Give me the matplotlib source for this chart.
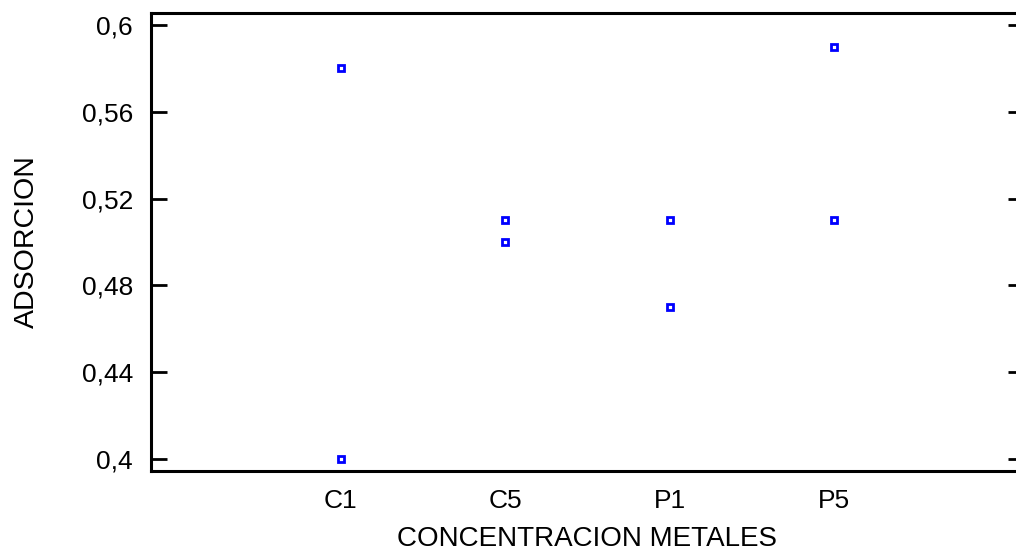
import numpy as np
import matplotlib.pyplot as plt

plt.rcParams['font.family'] = ['Liberation Sans', 'DejaVu Sans']

# data
categorias = ['C1', 'C5', 'P1', 'P5']
adsorcion_a = [0.58, 0.51, 0.51, 0.59]
adsorcion_b = [0.40, 0.50, 0.47, 0.51]
yticks = [0.40, 0.44, 0.48, 0.52, 0.56, 0.60]
ytick_labels = ['0,4', '0,44', '0,48', '0,52', '0,56', '0,6']

fig = plt.figure(figsize=(10.16, 5.54), dpi=100)
ax = fig.add_axes([0.1486, 0.1498, 0.859, 0.8267])

x = np.arange(len(categorias))
for serie in (adsorcion_a, adsorcion_b):
    ax.plot(x, serie, linestyle='none', marker='s', markersize=4.6,
            markerfacecolor='white', markeredgecolor='#0000ff',
            markeredgewidth=2.0, clip_on=False)

ax.set_xlim(-1.152, 4.152)
ax.set_ylim(0.3945, 0.6055)
ax.set_xticks(x)
ax.set_xticklabels(categorias)
ax.set_yticks(yticks)
ax.set_yticklabels(ytick_labels)

ax.tick_params(axis='y', direction='in', length=11.5, width=2, pad=13,
               labelsize=19, right=True)
ax.tick_params(axis='x', length=0, pad=13, labelsize=19)

for s in ax.spines.values():
    s.set_linewidth(2.2)

ax.set_xlabel('CONCENTRACION METALES', fontsize=20, labelpad=9)
ax.set_ylabel('ADSORCION', fontsize=20.5, labelpad=30)

fig.savefig('out.png', dpi=100)
